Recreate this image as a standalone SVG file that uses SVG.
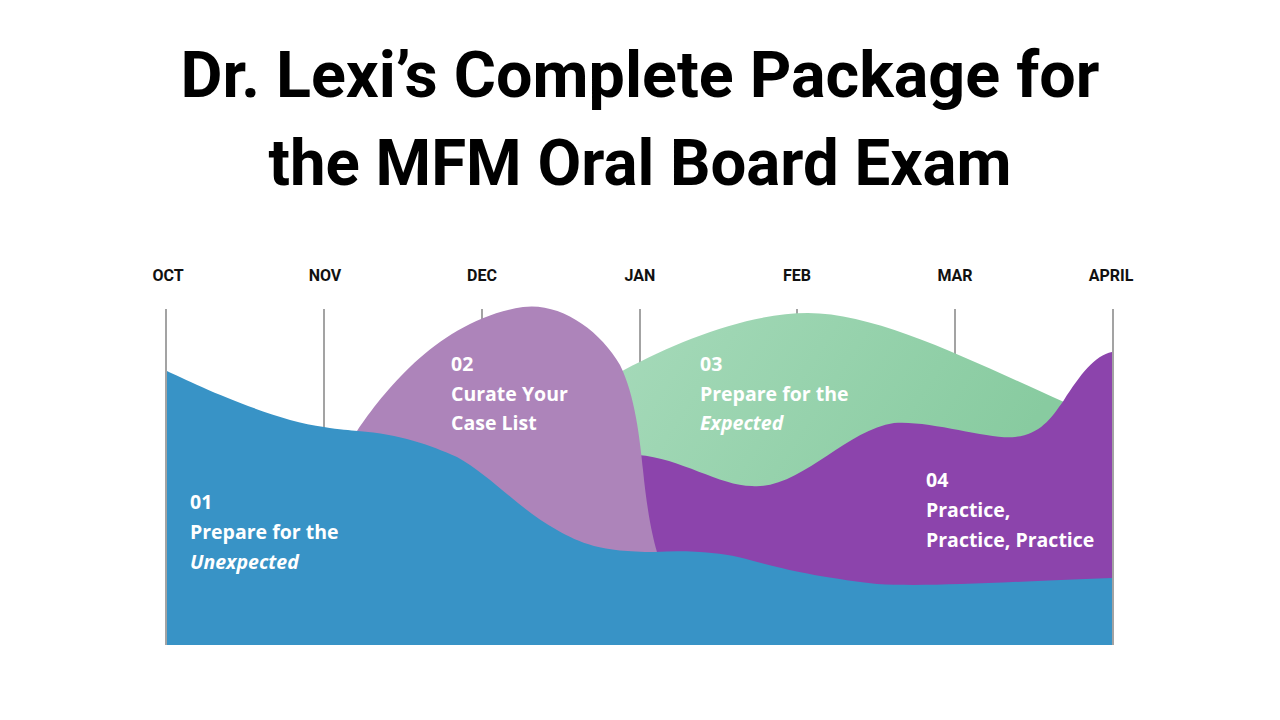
<svg xmlns="http://www.w3.org/2000/svg" width="1280" height="720" viewBox="0 0 1280 720">
<style>
.title{font-family:Roboto,"Open Sans","Liberation Sans",sans-serif;font-weight:700;font-size:64px;fill:#000;text-anchor:middle}
.month{font-family:Roboto,"Liberation Sans",sans-serif;font-weight:700;font-size:16px;fill:#111;text-anchor:middle}
.grid{stroke:#666;stroke-width:1.2}
.lbl{font-family:"Open Sans","Noto Sans",sans-serif;font-weight:700;font-size:19.5px;fill:#fff}
.it{font-style:italic}
</style>
<defs>
<linearGradient id="g3" x1="0" y1="0" x2="1" y2="0.3">
<stop offset="0" stop-color="#A6DABA"/>
<stop offset="1" stop-color="#88CBA0"/>
</linearGradient>
</defs>
<rect width="1280" height="720" fill="#fff"/>
<g id="title">
<text class="title" x="640" y="97" textLength="919" lengthAdjust="spacingAndGlyphs">Dr. Lexi’s Complete Package for</text>
<text class="title" x="640" y="185" textLength="743" lengthAdjust="spacingAndGlyphs">the MFM Oral Board Exam</text>
</g>
<g id="axis">
<text class="month" x="168" y="281">OCT</text>
<text class="month" x="325" y="281">NOV</text>
<text class="month" x="482" y="281">DEC</text>
<text class="month" x="640" y="281">JAN</text>
<text class="month" x="797" y="281">FEB</text>
<text class="month" x="955" y="281">MAR</text>
<text class="month" x="1111" y="281">APRIL</text>
<line class="grid" x1="166" y1="309" x2="166" y2="645"/>
<line class="grid" x1="324" y1="309" x2="324" y2="645"/>
<line class="grid" x1="482" y1="309" x2="482" y2="645"/>
<line class="grid" x1="640" y1="309" x2="640" y2="645"/>
<line class="grid" x1="797" y1="309" x2="797" y2="645"/>
<line class="grid" x1="955" y1="309" x2="955" y2="645"/>
<line class="grid" x1="1113" y1="309" x2="1113" y2="645"/>
</g>
<g id="phase03">
<path fill="url(#g3)" d="M615,375 L624,370 C680,340 750,313 808,313 C880,313 980,365 1064,402 L1064,520 L620,520 Z"/>
</g>
<g id="phase04">
<path fill="#8C44AC" d="M630,455 L638,455 C680,458 720,486 752,486 C800,490 845,430 894,423 C930,420 990,440 1015,437 C1040,434 1050,420 1064,400 C1080,375 1095,355 1112,352 L1112,645 L630,645 Z"/>
</g>
<g id="phase02">
<path fill="#AD84BA" d="M352,440 L357,431 C385,390 440,320 523,307 C560,302 600,330 620,365 C635,395 640,440 643,470 C647,510 652,535 657,552 L657,640 L352,640 Z"/>
</g>
<g id="phase01">
<path fill="#3893C6" d="M167,371 C190,382 270,420 324,427 C340,430 350,430 358,431 C400,434 430,445 457,457 C490,475 520,510 557,530 C580,543 600,552 655,552 C690,550 720,553 738,557 C770,565 800,575 877,584 C930,587 1000,582 1112,578 L1112,645 L167,645 Z"/>
</g>
<g id="labels">
<text class="lbl" x="190" y="509">01</text>
<text class="lbl" x="190" y="539">Prepare for the</text>
<text class="lbl it" x="190" y="569">Unexpected</text>
<text class="lbl" x="451" y="371">02</text>
<text class="lbl" x="451" y="401">Curate Your</text>
<text class="lbl" x="451" y="430">Case List</text>
<text class="lbl" x="700" y="371">03</text>
<text class="lbl" x="700" y="401">Prepare for the</text>
<text class="lbl it" x="700" y="430">Expected</text>
<text class="lbl" x="926" y="487">04</text>
<text class="lbl" x="926" y="517">Practice,</text>
<text class="lbl" x="926" y="547">Practice, Practice</text>
</g>
</svg>
